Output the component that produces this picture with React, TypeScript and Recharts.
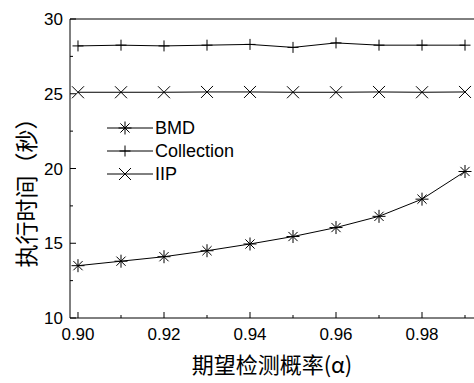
import React from 'react';
import { LineChart, Line, XAxis, YAxis } from 'recharts';

const alphas = [0.9, 0.91, 0.92, 0.93, 0.94, 0.95, 0.96, 0.97, 0.98, 0.99];
const bmd = [13.5, 13.8, 14.1, 14.5, 14.95, 15.45, 16.05, 16.8, 17.95, 19.8];
const collection = [28.2, 28.25, 28.2, 28.25, 28.3, 28.1, 28.4, 28.25, 28.25, 28.25];
const iip = [25.1, 25.1, 25.1, 25.12, 25.12, 25.1, 25.1, 25.12, 25.1, 25.12];

const yTicks = [10, 12.5, 15, 17.5, 20, 22.5, 25, 27.5, 30];
const xTicks = alphas;

const chartData = alphas.map((a, i) => ({
  alpha: a,
  bmd: bmd[i],
  collection: collection[i],
  iip: iip[i],
}));

const FONT = '"Liberation Sans", Arial, sans-serif';
const CJK = '"Noto Sans CJK SC", sans-serif';

const Star = ({ cx, cy }: any) => {
  const r = 6.5;
  const d = 4.6;
  return (
    <g stroke="#000" strokeWidth={1}>
      <line x1={cx} y1={cy - r} x2={cx} y2={cy + r} />
      <line x1={cx - d} y1={cy - d} x2={cx + d} y2={cy + d} />
      <line x1={cx - d} y1={cy + d} x2={cx + d} y2={cy - d} />
      <line x1={cx - r} y1={cy} x2={cx + r} y2={cy} />
    </g>
  );
};

const Plus = ({ cx, cy }: any) => {
  const r = 5.5;
  return (
    <g stroke="#000" strokeWidth={1}>
      <line x1={cx} y1={cy - r} x2={cx} y2={cy + r} />
      <line x1={cx - r} y1={cy} x2={cx + r} y2={cy} />
    </g>
  );
};

const Cross = ({ cx, cy }: any) => {
  const d = 6;
  return (
    <g stroke="#000" strokeWidth={1}>
      <line x1={cx - d} y1={cy - d} x2={cx + d} y2={cy + d} />
      <line x1={cx - d} y1={cy + d} x2={cx + d} y2={cy - d} />
    </g>
  );
};

// ticks drawn inward, labels only on major ticks
const YTick = ({ x, y, payload }: any) => {
  const v = payload.value;
  const major = v % 5 === 0;
  const ax = x + 7;
  return (
    <g>
      <line x1={ax} y1={y} x2={ax + (major ? 6 : 3)} y2={y} stroke="#000" />
      {major && (
        <text x={x} y={y} dy={6} textAnchor="end" fontSize={17} fontFamily={FONT} fill="#000">
          {v}
        </text>
      )}
    </g>
  );
};

const XTick = ({ x, y, payload }: any) => {
  const v = payload.value;
  const major = Math.round(v * 100) % 2 === 0;
  const ay = y - 8;
  return (
    <g>
      <line x1={x} y1={ay} x2={x} y2={ay - (major ? 6 : 3)} stroke="#000" />
      {major && (
        <text x={x} y={y} dy={14} textAnchor="middle" fontSize={17} fontFamily={FONT} fill="#000">
          {v.toFixed(2)}
        </text>
      )}
    </g>
  );
};

const legendItems = [
  { name: 'BMD', Shape: Star },
  { name: 'Collection', Shape: Plus },
  { name: 'IIP', Shape: Cross },
];

export default function App() {
  return (
    <div style={{ position: 'fixed', left: 0, top: 0, width: 474, height: 383, overflow: 'hidden', background: '#fff' }}>
      <LineChart width={490} height={383} data={chartData} margin={{ top: 19, right: 12, left: 10, bottom: 20 }}>
        <XAxis
          dataKey="alpha"
          type="number"
          domain={[0.89814, 0.99302]}
          ticks={xTicks}
          tick={<XTick />}
          tickLine={false}
          tickSize={0}
          tickMargin={8}
          height={45}
          stroke="#000"
          interval={0}
        />
        <YAxis
          type="number"
          domain={[10, 30]}
          ticks={yTicks}
          tick={<YTick />}
          tickLine={false}
          tickSize={0}
          tickMargin={7}
          width={60}
          stroke="#000"
          interval={0}
        />
        <Line dataKey="collection" stroke="#000" strokeWidth={1} dot={<Plus />} isAnimationActive={false} />
        <Line dataKey="iip" stroke="#000" strokeWidth={1} dot={<Cross />} isAnimationActive={false} />
        <Line dataKey="bmd" stroke="#000" strokeWidth={1} dot={<Star />} isAnimationActive={false} />
        {/* top frame line */}
        <line x1={70} y1={19} x2={490} y2={19} stroke="#000" strokeWidth={1} />
        {legendItems.map((it, i) => {
          const ly = 128 + i * 23;
          return (
            <g key={it.name}>
              <line x1={107} y1={ly} x2={153} y2={ly} stroke="#000" />
              <it.Shape cx={125} cy={ly} />
              <text x={155} y={ly} dy={6} fontSize={18} fontFamily={FONT} fill="#000">
                {it.name}
              </text>
            </g>
          );
        })}
        <text x={272} y={373} textAnchor="middle" fontSize={22} fontFamily={CJK} fill="#000">
          期望检测概率(α)
        </text>
        <text
          x={25}
          y={187}
          textAnchor="middle"
          dominantBaseline="central"
          fontSize={23}
          fontFamily={CJK}
          fill="#000"
          transform="rotate(-90 25 187)"
        >
          执行时间（秒）
        </text>
      </LineChart>
    </div>
  );
}
